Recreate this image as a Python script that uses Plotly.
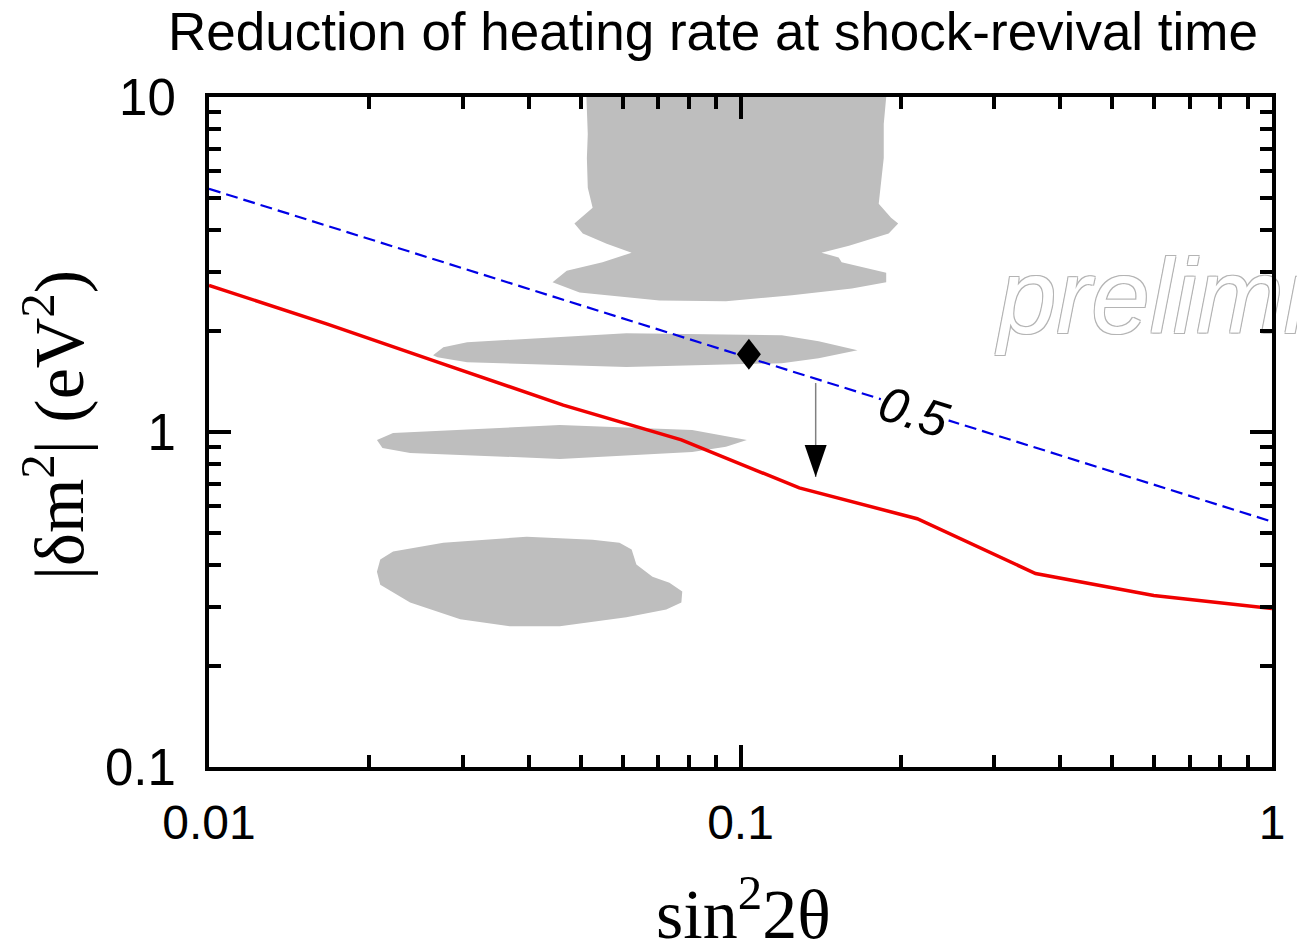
import numpy as np
import plotly.graph_objects as go

# ---------------- data ----------------
x_ticks = [0.01, 0.1, 1]
x_tick_labels = ["0.01", "0.1", "1"]
y_ticks = [0.1, 1, 10]
y_tick_labels = ["0.1", "1", "10"]

# red solid curve (heating-rate reduction boundary)
red_x = [0.01, 0.0167, 0.0278, 0.0464, 0.0774, 0.129, 0.215, 0.359, 0.599, 1.0]
red_y = [2.74, 2.10, 1.59, 1.203, 0.947, 0.681, 0.551, 0.378, 0.325, 0.297]

# blue dashed "0.5" contour
blue_x = [0.01, 1.0]
blue_y = [5.32, 0.54]

# grey allowed regions
blob1_x = [0.0513, 0.0516, 0.0514, 0.0516, 0.0527, 0.0487, 0.0505, 0.0560, 0.0624, 0.0550,
           0.0471, 0.0443, 0.0498, 0.0704, 0.0939, 0.125, 0.162, 0.188, 0.188, 0.155,
           0.153, 0.142, 0.160, 0.190, 0.198, 0.192, 0.182, 0.184, 0.186, 0.186, 0.188]
blob1_y = [10.0, 7.76, 6.58, 5.36, 4.67, 4.19, 3.91, 3.65, 3.43, 3.21,
           3.03, 2.80, 2.61, 2.47, 2.455, 2.56, 2.68, 2.80, 2.99, 3.21,
           3.32, 3.43, 3.60, 3.91, 4.19, 4.36, 4.80, 5.51, 6.58, 8.31, 10.0]

blob2_x = [0.0264, 0.0276, 0.0306, 0.0610, 0.1196, 0.1403, 0.1660, 0.1403, 0.1196, 0.0610, 0.0306, 0.0269]
blob2_y = [1.695, 1.791, 1.853, 1.971, 1.945, 1.866, 1.754, 1.661, 1.605, 1.562, 1.616, 1.672]

blob3_x = [0.0207, 0.0222, 0.0457, 0.0811, 0.1028, 0.0939, 0.0811, 0.0457, 0.0239, 0.0212]
blob3_y = [0.947, 0.993, 1.049, 1.014, 0.947, 0.903, 0.872, 0.831, 0.866, 0.896]

blob4_x = [0.0207, 0.0210, 0.0222, 0.0276, 0.0396, 0.0527, 0.0592, 0.0624, 0.0637, 0.0665,
           0.0683, 0.0735, 0.0777, 0.0774, 0.0725, 0.0610, 0.0457, 0.0368, 0.0297, 0.0239, 0.0210]
blob4_y = [0.383, 0.416, 0.4395, 0.467, 0.487, 0.477, 0.467, 0.446, 0.402, 0.383,
           0.370, 0.355, 0.334, 0.310, 0.295, 0.280, 0.263, 0.263, 0.276, 0.310, 0.350]

blobs = [(blob1_x, blob1_y), (blob2_x, blob2_y), (blob3_x, blob3_y), (blob4_x, blob4_y)]

# diamond marker and arrow
diamond_x = 0.1037
diamond_y = 1.707
arrow_x = 0.1385
arrow_y_start = 1.40
arrow_y_tip = 0.734

# "0.5" label and watermark
label_text = "0.5"
label_x = 0.2120
label_y = 1.147
watermark_text = "preliminary"
watermark_x = 0.305
watermark_y = 2.36

title_text = "Reduction of heating rate at shock-revival time"

# ---------------- figure ----------------
fig = go.Figure()

for bx, by in blobs:
    fig.add_trace(go.Scatter(x=bx, y=by, mode="lines", fill="toself",
                             fillcolor="#bebebe", line=dict(width=0, color="#bebebe"),
                             hoverinfo="skip", showlegend=False))

fig.add_trace(go.Scatter(x=blue_x, y=blue_y, mode="lines",
                         line=dict(color="#0000e6", width=2.2, dash="12px,6px"),
                         showlegend=False))
fig.add_trace(go.Scatter(x=red_x, y=red_y, mode="lines",
                         line=dict(color="#f00000", width=3.5),
                         showlegend=False))

# arrow shaft
fig.add_trace(go.Scatter(x=[arrow_x, arrow_x], y=[arrow_y_start, arrow_y_tip], mode="lines",
                         line=dict(color="#808080", width=1.5), showlegend=False))

# watermark (drawn under axis frame)
fig.add_trace(go.Scatter(x=[watermark_x], y=[watermark_y], mode="text", text=[watermark_text],
                         textposition="middle right", cliponaxis=False,
                         textfont=dict(family="Liberation Sans, Arial, sans-serif", size=105,
                                       color="white", style="italic",
                                       shadow="-1px -1px 0 #b4b4b4, 1px -1px 0 #b4b4b4, -1px 1px 0 #b4b4b4, 1px 1px 0 #b4b4b4"),
                         showlegend=False, hoverinfo="skip"))

shapes = [
    # arrow head
    dict(type="path", xref="x", yref="y", xsizemode="pixel", ysizemode="pixel",
         xanchor=arrow_x, yanchor=arrow_y_tip,
         path="M 0,0 L -11,32 L 11,32 Z", fillcolor="black", line=dict(width=0)),
    # diamond
    dict(type="path", xref="x", yref="y", xsizemode="pixel", ysizemode="pixel",
         xanchor=diamond_x, yanchor=diamond_y,
         path="M 0,15.5 L 12,0 L 0,-15.5 L -12,0 Z", fillcolor="black", line=dict(width=0)),
]

annotations = [
    dict(text=label_text, x=np.log10(label_x), y=np.log10(label_y), xref="x", yref="y",
         showarrow=False, textangle=17, bgcolor="white", borderpad=0,
         font=dict(family="Liberation Sans, Arial, sans-serif", size=50, color="black", style="italic")),
    # y axis title
    dict(text="|δm<sup>2</sup>| (eV<sup>2</sup>)", xref="paper", yref="paper",
         x=-0.146, y=0.51, xanchor="center", yanchor="middle", textangle=-90, showarrow=False,
         font=dict(family="Liberation Serif, Times New Roman, serif", size=70, color="black")),
    # x axis title
    dict(text="sin<sup>2</sup>2θ", xref="paper", yref="paper",
         x=0.503, y=-0.212, xanchor="center", yanchor="middle", showarrow=False,
         font=dict(family="Liberation Serif, Times New Roman, serif", size=70, color="black")),
    # title
    dict(text=title_text, xref="paper", yref="paper", x=0.474, y=1.0 + 66 / 672,
         xanchor="center", yanchor="middle", showarrow=False,
         font=dict(family="Liberation Sans, Arial, sans-serif", size=53, color="black")),
]

axis_common = dict(type="log", showline=True, linewidth=4, linecolor="black", mirror="allticks",
                   ticks="inside", ticklen=22, tickwidth=3.5, tickcolor="black",
                   showgrid=False, zeroline=False,
                   minor=dict(ticks="inside", ticklen=12, tickwidth=3.5, tickcolor="black",
                              dtick="D1", showgrid=False))

fig.update_layout(
    width=1297, height=939,
    margin=dict(l=209, r=23, t=97, b=172),
    paper_bgcolor="white", plot_bgcolor="white",
    showlegend=False,
    xaxis=dict(range=[-2, 0], tickvals=x_ticks, ticktext=x_tick_labels,
               tickfont=dict(family="Liberation Sans, Arial, sans-serif", size=48, color="black"),
               ticklabelstandoff=10, **axis_common),
    yaxis=dict(range=[-1, 1], tickvals=y_ticks, ticktext=y_tick_labels,
               tickfont=dict(family="Liberation Sans, Arial, sans-serif", size=51, color="black"),
               ticklabelstandoff=19, **axis_common),
    shapes=shapes,
    annotations=annotations,
)

fig.write_html("out.html")
